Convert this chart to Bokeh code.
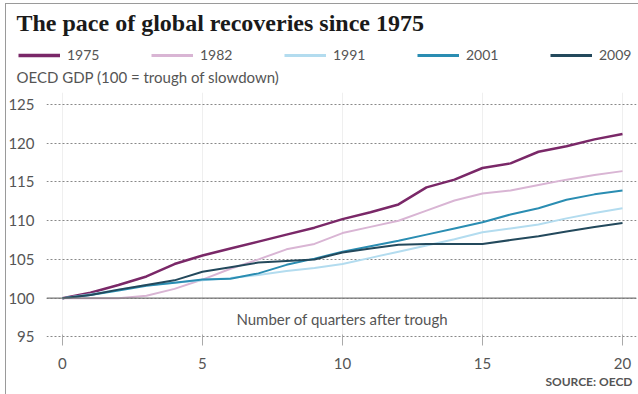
from bokeh.plotting import figure
from bokeh.models import (ColumnDataSource, Legend, LegendItem, Label, Span,
                          FixedTicker, Range1d, Title, InlineStyleSheet)
from bokeh.embed import file_html
from bokeh.resources import INLINE

# ---------------- data ----------------
quarters = list(range(21))
s1975 = [100, 100.7, 101.7, 102.8, 104.4, 105.5, 106.4, 107.3, 108.2, 109.1, 110.2,
         111.1, 112.1, 114.3, 115.3, 116.8, 117.4, 118.9, 119.6, 120.5, 121.2]
s1982 = [100, 100.0, 100.0, 100.3, 101.2, 102.4, 103.8, 105.0, 106.3, 107.0, 108.4,
         109.2, 110.0, 111.3, 112.6, 113.5, 113.9, 114.6, 115.3, 115.9, 116.4]
s1991 = [100, 100.5, 101.1, 101.7, 102.0, 102.3, 102.6, 103.0, 103.5, 103.9, 104.4,
         105.2, 106.0, 106.8, 107.6, 108.5, 109.0, 109.5, 110.3, 111.0, 111.6]
s2001 = [100, 100.4, 101.0, 101.6, 102.0, 102.4, 102.5, 103.2, 104.3, 105.1, 106.0,
         106.7, 107.4, 108.2, 109.0, 109.8, 110.8, 111.6, 112.7, 113.4, 113.9]
s2009 = [100, 100.4, 101.1, 101.7, 102.3, 103.4, 104.0, 104.6, 104.8, 105.0, 105.9,
         106.4, 106.9, 107.0, 107.0, 107.0, 107.5, 108.0, 108.6, 109.2, 109.7]
series_names = ["1975", "1982", "1991", "2001", "2009"]
series_values = [s1975, s1982, s1991, s2001, s2009]
x_ticks = [0, 5, 10, 15, 20]
y_ticks = [95, 100, 105, 110, 115, 120, 125]
baseline = 100
title_text = "The pace of global recoveries since 1975"
subtitle_text = "OECD GDP (100 = trough of slowdown)"
xlabel_text = "Number of quarters after trough"
source_text = "SOURCE: OECD"

# ---------------- style ----------------
colors = ["#7a2868", "#d9b5d4", "#b3dcef", "#2a8db2", "#23495c"]
widths = [2.5, 2, 2, 2, 2]
SANS = "Lato"
GREY = "#555555"

W = 638
HEAD_H = 92
MAIN_H = 302

# ---------------- header (title, legend, subtitle) ----------------
head = figure(width=W, height=HEAD_H, output_backend="svg", toolbar_location=None,
              title=None, x_range=Range1d(0, W), y_range=Range1d(0, HEAD_H),
              x_axis_location=None, y_axis_location=None,
              min_border=0, min_border_left=0, min_border_right=0,
              min_border_top=0, min_border_bottom=0)
head.grid.visible = False
head.outline_line_color = None
head.border_fill_color = "white"
head.stylesheets = [InlineStyleSheet(css=(
    ":host::after { content: ''; position: absolute; left: 5px; top: 3px; "
    "width: 640px; height: 100px; border-left: 1.5px solid #9a9a9a; "
    "border-top: 1.5px solid #9a9a9a; pointer-events: none; z-index: 50; }"))]

proxies = []
for name, vals, c, w in zip(series_names, series_values, colors, widths):
    # one-point legend proxy: draws nothing itself, only feeds the legend
    r = head.line(x=quarters[:1], y=vals[:1], line_color=c, line_width=w + 1)
    proxies.append(LegendItem(label=name, renderers=[r]))

legend = Legend(items=proxies, orientation="horizontal", location=(18, HEAD_H - 63),
                glyph_width=42, glyph_height=14, label_standoff=7, label_width=40,
                spacing=44, padding=0, margin=0,
                border_line_color=None, background_fill_alpha=0,
                label_text_font=SANS, label_text_font_size="14px",
                label_text_color=GREY)
head.add_layout(legend, "center")
head.add_layout(Label(x=16, y=HEAD_H - 22, x_units="screen", y_units="screen",
                      text=title_text, text_font="Liberation Serif", text_font_style="bold",
                      text_font_size="24px", text_color="#1a1a1a", text_baseline="middle"))
head.add_layout(Label(x=16, y=HEAD_H - 76, x_units="screen", y_units="screen",
                      text=subtitle_text, text_font=SANS, text_font_size="15px",
                      text_color=GREY, text_baseline="middle"))

# ---------------- main chart ----------------
p = figure(width=W, height=MAIN_H, output_backend="svg", toolbar_location=None, title=None,
           x_range=Range1d(-0.57, 20.5), y_range=Range1d(94.92, 126.55),
           min_border_left=46, min_border_right=2,
           min_border_top=0, min_border_bottom=57)
p.outline_line_color = None
p.background_fill_color = "white"
p.border_fill_color = "white"
p.stylesheets = [InlineStyleSheet(css=(
    ":host::after { content: ''; position: absolute; left: 5px; top: 0px; "
    "width: 10px; height: 310px; border-left: 1.5px solid #9a9a9a; "
    "pointer-events: none; z-index: 50; }"))]

p.xaxis.ticker = FixedTicker(ticks=x_ticks)
p.yaxis.ticker = FixedTicker(ticks=y_ticks)
for ax in (p.xaxis[0], p.yaxis[0]):
    ax.axis_line_color = None
    ax.minor_tick_line_color = None
    ax.major_label_text_font = SANS
    ax.major_label_text_font_size = "15px"
    ax.major_label_text_color = GREY
p.yaxis.major_tick_line_color = None
p.yaxis.major_label_standoff = 6
p.xaxis.major_tick_line_color = "#aaaaaa"
p.xaxis.major_tick_out = 8
p.xaxis.major_tick_in = 3
p.xaxis.major_label_standoff = 12

p.ygrid.grid_line_color = "#888888"
p.ygrid.grid_line_dash = "2 2"
p.ygrid.grid_line_width = 1
p.xgrid.grid_line_color = "#efefef"
p.xgrid.grid_line_width = 1

p.add_layout(Span(location=baseline, dimension="width", line_color="#777777", line_width=1.2))

for name, vals, c, w in zip(series_names, series_values, colors, widths):
    src = ColumnDataSource(dict(x=quarters, y=vals))
    p.line("x", "y", source=src, line_color=c, line_width=w)

p.add_layout(Label(x=10, y=97.3, text=xlabel_text, text_font=SANS,
                   text_font_size="15px", text_color=GREY,
                   text_align="center", text_baseline="middle"))
p.add_layout(Title(text=source_text, align="right", text_font=SANS,
                   text_font_size="12px", text_font_style="bold",
                   text_color=GREY, standoff=0, offset=4), "below")

open("out.html", "w").write(file_html([head, p], INLINE))
